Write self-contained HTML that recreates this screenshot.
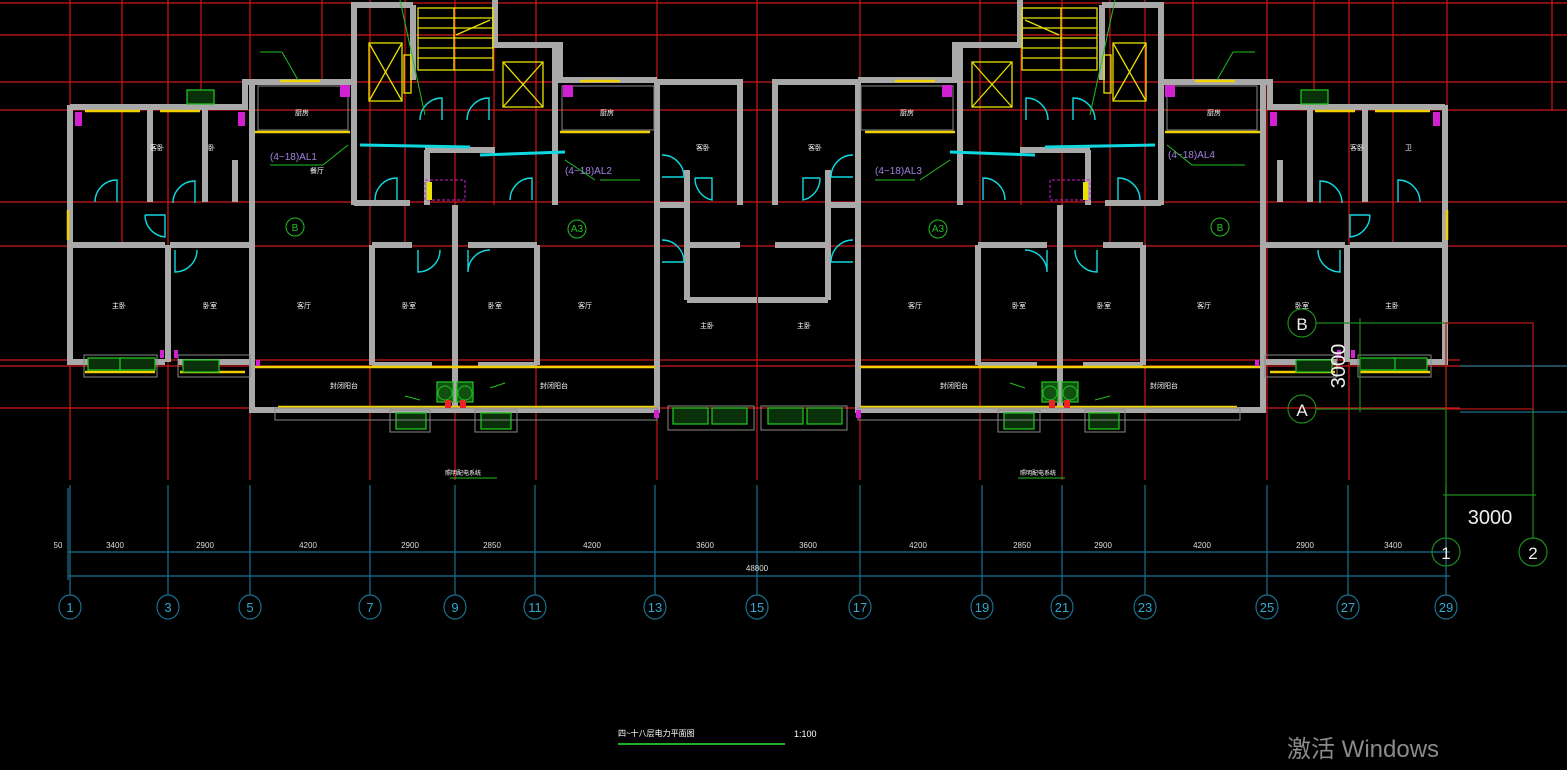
<!DOCTYPE html>
<html><head><meta charset="utf-8"><style>
html,body{margin:0;padding:0;background:#000;overflow:hidden}
svg{display:block}
text{font-family:"Liberation Sans","Noto Sans CJK SC",sans-serif}
</style></head><body>
<svg width="1567" height="770" viewBox="0 0 1567 770" xmlns="http://www.w3.org/2000/svg">
<rect width="1567" height="770" fill="#000"/>
<g stroke="#d01818" stroke-width="1.2" fill="none">
<line x1="0" y1="3" x2="1567" y2="3"/>
<line x1="0" y1="35" x2="1567" y2="35"/>
<line x1="0" y1="82" x2="1567" y2="82"/>
<line x1="0" y1="110" x2="1567" y2="110"/>
<line x1="0" y1="202" x2="1567" y2="202"/>
<line x1="0" y1="246" x2="1567" y2="246"/>
<line x1="0" y1="360" x2="1460" y2="360"/>
<line x1="0" y1="366" x2="1567" y2="366"/>
<line x1="0" y1="408" x2="1460" y2="408"/>
<line x1="70" y1="0" x2="70" y2="480"/><line x1="122" y1="0" x2="122" y2="245"/>
<line x1="168" y1="0" x2="168" y2="480"/><line x1="201" y1="0" x2="201" y2="110"/>
<line x1="250" y1="0" x2="250" y2="480"/><line x1="322" y1="0" x2="322" y2="80"/>
<line x1="370" y1="0" x2="370" y2="480"/><line x1="405" y1="0" x2="405" y2="245"/>
<line x1="455" y1="0" x2="455" y2="480"/><line x1="494" y1="0" x2="494" y2="205"/>
<line x1="536" y1="0" x2="536" y2="480"/><line x1="657" y1="0" x2="657" y2="480"/>
<line x1="757" y1="0" x2="757" y2="480"/><line x1="860" y1="0" x2="860" y2="480"/>
<line x1="980" y1="0" x2="980" y2="480"/><line x1="1021" y1="0" x2="1021" y2="205"/>
<line x1="1062" y1="0" x2="1062" y2="480"/><line x1="1110" y1="0" x2="1110" y2="245"/>
<line x1="1145" y1="0" x2="1145" y2="480"/><line x1="1193" y1="0" x2="1193" y2="80"/>
<line x1="1267" y1="0" x2="1267" y2="480"/><line x1="1314" y1="0" x2="1314" y2="110"/>
<line x1="1349" y1="0" x2="1349" y2="480"/><line x1="1393" y1="0" x2="1393" y2="245"/>
<line x1="1447" y1="0" x2="1447" y2="366"/><line x1="1552" y1="0" x2="1552" y2="110"/>
</g>
<defs>
<g id="half">
<g stroke="#a9a9a9" stroke-width="6" fill="none">
<polyline points="70,105 70,362 165,362"/>
<polyline points="70,107 245,107 245,82 352,82"/>
<line x1="150" y1="107" x2="150" y2="202"/>
<line x1="205" y1="107" x2="205" y2="202"/>
<line x1="235" y1="160" x2="235" y2="202"/>
<line x1="70" y1="245" x2="165" y2="245"/>
<line x1="170" y1="245" x2="250" y2="245"/>
<line x1="168" y1="245" x2="168" y2="362"/>
<line x1="178" y1="362" x2="252" y2="362"/>
<polyline points="252,82 252,410 657,410 657,82 740,82 740,205"/>
<polyline points="354,205 354,5 413,5"/>
<line x1="413" y1="5" x2="413" y2="80"/>
<polyline points="495,0 495,45 560,45 560,80 657,80"/>
<line x1="555" y1="45" x2="555" y2="205"/>
<line x1="354" y1="203" x2="410" y2="203"/>
<line x1="425" y1="150" x2="495" y2="150"/>
<line x1="427" y1="150" x2="427" y2="205"/>
<line x1="372" y1="245" x2="372" y2="365"/>
<line x1="372" y1="245" x2="412" y2="245"/>
<line x1="455" y1="205" x2="455" y2="410"/>
<line x1="468" y1="245" x2="537" y2="245"/>
<line x1="537" y1="245" x2="537" y2="365"/>
<line x1="372" y1="365" x2="432" y2="365"/>
<line x1="478" y1="365" x2="537" y2="365"/>
<line x1="687" y1="170" x2="687" y2="300"/>
<line x1="687" y1="300" x2="757" y2="300"/>
<line x1="687" y1="245" x2="740" y2="245"/>
<line x1="660" y1="205" x2="687" y2="205"/>
</g>
<g stroke="#e8e000" stroke-width="1.3" fill="none">
<rect x="418" y="8" width="75" height="62"/>
<line x1="418" y1="18" x2="493" y2="18"/><line x1="418" y1="28" x2="493" y2="28"/>
<line x1="418" y1="38" x2="493" y2="38"/><line x1="418" y1="48" x2="493" y2="48"/>
<line x1="418" y1="58" x2="493" y2="58"/>
<line x1="454" y1="8" x2="454" y2="70"/><line x1="456" y1="35" x2="490" y2="20"/>
<rect x="369" y="43" width="33" height="58"/><line x1="369" y1="43" x2="402" y2="101"/><line x1="402" y1="43" x2="369" y2="101"/>
<rect x="503" y="62" width="40" height="45"/><line x1="503" y1="62" x2="543" y2="107"/><line x1="543" y1="62" x2="503" y2="107"/>
<rect x="404" y="55" width="7" height="38"/>
</g>
<g stroke="#f0d000" stroke-width="2.5">
<line x1="255" y1="367" x2="655" y2="367"/>
<line x1="278" y1="407" x2="655" y2="407"/>
<line x1="85" y1="111" x2="140" y2="111"/><line x1="160" y1="111" x2="200" y2="111"/>
<line x1="280" y1="81" x2="320" y2="81"/><line x1="580" y1="81" x2="620" y2="81"/>
<line x1="255" y1="132" x2="350" y2="132"/><line x1="560" y1="132" x2="650" y2="132"/>
<line x1="85" y1="372" x2="155" y2="372"/><line x1="180" y1="372" x2="245" y2="372"/>
<line x1="68" y1="210" x2="68" y2="240"/>
</g>
<g stroke="#20c020" stroke-width="1.3" fill="#0a300a">
<rect x="88" y="358" width="35" height="12"/><rect x="120" y="358" width="35" height="12"/>
<rect x="183" y="360" width="36" height="12"/>
<rect x="187" y="90" width="27" height="14"/>
<rect x="396" y="413" width="30" height="16"/><rect x="481" y="413" width="30" height="16"/>
<rect x="673" y="408" width="35" height="16"/><rect x="712" y="408" width="35" height="16"/>
<rect x="437" y="382" width="16" height="20" fill="#105010"/><rect x="457" y="382" width="16" height="20" fill="#105010"/>
</g>
<g stroke="#888" stroke-width="1" fill="none">
<rect x="84" y="355" width="73" height="22"/><rect x="178" y="355" width="72" height="22"/>
<rect x="275" y="408" width="382" height="12"/><rect x="390" y="410" width="40" height="22"/><rect x="475" y="410" width="42" height="22"/>
<rect x="668" y="406" width="86" height="24"/>
<rect x="258" y="86" width="90" height="44"/><rect x="562" y="86" width="92" height="44"/>
</g>
<g stroke="#10d8e0" stroke-width="1.4" fill="none">
<path d="M95 202 A22 22 0 0 1 117 180 L117 202"/>
<path d="M173 203 A22 22 0 0 1 195 181 L195 203"/>
<path d="M145 215 L165 215 L165 237 A22 22 0 0 1 145 215"/>
<path d="M175 250 L175 272 A22 22 0 0 0 197 250"/>
<path d="M418 250 L418 272 A22 22 0 0 0 440 250"/>
<path d="M468 250 L468 272 A22 22 0 0 1 490 250"/>
<path d="M420 120 A22 22 0 0 1 442 98 L442 120"/>
<path d="M467 120 A22 22 0 0 1 489 98 L489 120"/>
<path d="M375 200 A22 22 0 0 1 397 178 L397 200"/>
<path d="M510 200 A22 22 0 0 1 532 178 L532 200"/>
<path d="M662 155 A22 22 0 0 1 684 177 L662 177"/>
<path d="M662 240 A22 22 0 0 1 684 262 L662 262"/>
<path d="M695 178 L712 178 L712 200 A22 22 0 0 1 695 178"/>
<line x1="360" y1="145" x2="470" y2="147" stroke-width="3"/>
<line x1="480" y1="155" x2="565" y2="152" stroke-width="3"/>
</g>
<g fill="#d020d0"><rect x="75" y="112" width="7" height="14"/><rect x="238" y="112" width="7" height="14"/><rect x="340" y="85" width="10" height="12"/><rect x="563" y="85" width="10" height="12"/><rect x="654" y="410" width="5" height="8"/><rect x="256" y="360" width="4" height="6"/><rect x="160" y="350" width="4" height="8"/><rect x="174" y="350" width="4" height="8"/></g>
<g fill="#ee2222"><rect x="445" y="400" width="6" height="8"/><rect x="460" y="400" width="6" height="8"/></g>
<rect x="425" y="180" width="40" height="20" fill="none" stroke="#d020d0" stroke-dasharray="3,2"/>
<rect x="427" y="182" width="5" height="18" fill="#e8e000"/>
<g stroke="#20c020" stroke-width="1" fill="none">
<line x1="260" y1="52" x2="282" y2="52"/><line x1="282" y1="52" x2="298" y2="80"/>
<line x1="270" y1="165" x2="323" y2="165"/><line x1="323" y1="165" x2="348" y2="145"/>
<line x1="400" y1="0" x2="425" y2="115"/>
<line x1="600" y1="180" x2="640" y2="180"/><line x1="565" y1="160" x2="595" y2="180"/>
<line x1="405" y1="396" x2="420" y2="400"/><line x1="490" y1="388" x2="505" y2="383"/>
<line x1="450" y1="478" x2="497" y2="478"/>
<circle cx="295" cy="227" r="9"/><circle cx="577" cy="229" r="9"/>
<circle cx="445" cy="393" r="7"/><circle cx="465" cy="393" r="7"/>
</g>
</g>
</defs>
<use href="#half"/>
<use href="#half" transform="matrix(-1,0,0,1,1515,0)"/>
<g fill="#fff" font-size="7">
<text x="208" y="150">卧</text><text x="150" y="150">客卧</text><text x="295" y="115">厨房</text><text x="310" y="173">餐厅</text>
<text x="112" y="308">主卧</text><text x="203" y="308">卧室</text><text x="297" y="308">客厅</text><text x="402" y="308">卧室</text>
<text x="488" y="308">卧室</text><text x="578" y="308">客厅</text><text x="700" y="328">主卧</text><text x="797" y="328">主卧</text>
<text x="908" y="308">客厅</text><text x="1012" y="308">卧室</text><text x="1097" y="308">卧室</text><text x="1197" y="308">客厅</text>
<text x="1295" y="308">卧室</text><text x="1385" y="308">主卧</text><text x="330" y="388">封闭阳台</text><text x="540" y="388">封闭阳台</text>
<text x="940" y="388">封闭阳台</text><text x="1150" y="388">封闭阳台</text><text x="696" y="150">客卧</text><text x="808" y="150">客卧</text>
<text x="600" y="115">厨房</text><text x="1207" y="115">厨房</text><text x="900" y="115">厨房</text>
<text x="1350" y="150">客卧</text><text x="1405" y="150">卫</text>
<text x="618" y="736" font-size="8">四~十八层电力平面图</text><text x="794" y="737" font-size="9">1:100</text>
<text x="445" y="475" font-size="6">照明配电系统</text><text x="1020" y="475" font-size="6">照明配电系统</text>
</g>
<g fill="#a080e0" font-size="10">
<text x="270" y="160">(4~18)AL1</text><text x="565" y="174">(4~18)AL2</text>
<text x="875" y="174">(4~18)AL3</text><text x="1168" y="158">(4~18)AL4</text>
</g>
<g fill="#20c020" font-size="10" text-anchor="middle"><text x="295" y="231">B</text><text x="577" y="232">A3</text><text x="938" y="232">A3</text><text x="1220" y="231">B</text></g>
<rect x="618" y="743" width="167" height="2" fill="#20b020"/>
<g stroke="#1a7090" stroke-width="1.2" fill="none">
<line x1="68" y1="552" x2="1450" y2="552"/><line x1="68" y1="576" x2="1450" y2="576"/>
<line x1="68" y1="488" x2="68" y2="580"/>
<line x1="70" y1="485" x2="70" y2="595"/><line x1="168" y1="485" x2="168" y2="595"/><line x1="250" y1="485" x2="250" y2="595"/>
<line x1="370" y1="485" x2="370" y2="595"/><line x1="455" y1="485" x2="455" y2="595"/><line x1="535" y1="485" x2="535" y2="595"/>
<line x1="655" y1="485" x2="655" y2="595"/><line x1="757" y1="485" x2="757" y2="595"/><line x1="860" y1="485" x2="860" y2="595"/>
<line x1="982" y1="485" x2="982" y2="595"/><line x1="1062" y1="485" x2="1062" y2="595"/><line x1="1145" y1="485" x2="1145" y2="595"/>
<line x1="1267" y1="485" x2="1267" y2="595"/><line x1="1348" y1="485" x2="1348" y2="595"/><line x1="1446" y1="485" x2="1446" y2="595"/>
<line x1="1460" y1="366" x2="1567" y2="366"/><line x1="1460" y1="412" x2="1567" y2="412"/>
</g>
<g stroke="#1a7090" stroke-width="1.2" fill="none">
<ellipse cx="70" cy="607" rx="11" ry="12"/><ellipse cx="168" cy="607" rx="11" ry="12"/><ellipse cx="250" cy="607" rx="11" ry="12"/>
<ellipse cx="370" cy="607" rx="11" ry="12"/><ellipse cx="455" cy="607" rx="11" ry="12"/><ellipse cx="535" cy="607" rx="11" ry="12"/>
<ellipse cx="655" cy="607" rx="11" ry="12"/><ellipse cx="757" cy="607" rx="11" ry="12"/><ellipse cx="860" cy="607" rx="11" ry="12"/>
<ellipse cx="982" cy="607" rx="11" ry="12"/><ellipse cx="1062" cy="607" rx="11" ry="12"/><ellipse cx="1145" cy="607" rx="11" ry="12"/>
<ellipse cx="1267" cy="607" rx="11" ry="12"/><ellipse cx="1348" cy="607" rx="11" ry="12"/><ellipse cx="1446" cy="607" rx="11" ry="12"/>
</g>
<g fill="#30a8d0" font-size="13" text-anchor="middle">
<text x="70" y="612">1</text><text x="168" y="612">3</text><text x="250" y="612">5</text><text x="370" y="612">7</text>
<text x="455" y="612">9</text><text x="535" y="612">11</text><text x="655" y="612">13</text><text x="757" y="612">15</text>
<text x="860" y="612">17</text><text x="982" y="612">19</text><text x="1062" y="612">21</text><text x="1145" y="612">23</text>
<text x="1267" y="612">25</text><text x="1348" y="612">27</text><text x="1446" y="612">29</text>
</g>
<g fill="#ddd" font-size="8" text-anchor="middle">
<text x="58" y="548">50</text><text x="115" y="548">3400</text><text x="205" y="548">2900</text><text x="308" y="548">4200</text>
<text x="410" y="548">2900</text><text x="492" y="548">2850</text><text x="592" y="548">4200</text><text x="705" y="548">3600</text>
<text x="808" y="548">3600</text><text x="918" y="548">4200</text><text x="1022" y="548">2850</text><text x="1103" y="548">2900</text>
<text x="1202" y="548">4200</text><text x="1305" y="548">2900</text><text x="1393" y="548">3400</text><text x="757" y="571">48800</text>
</g>
<g stroke="#1c8a1c" stroke-width="1.2" fill="none">
<line x1="1316" y1="323" x2="1446" y2="323"/><line x1="1316" y1="409" x2="1446" y2="409"/>
<line x1="1360" y1="318" x2="1360" y2="412"/>
<line x1="1446" y1="323" x2="1446" y2="538"/><line x1="1533" y1="409" x2="1533" y2="538"/>
<line x1="1443" y1="495" x2="1536" y2="495"/>
<circle cx="1302" cy="323" r="14"/><circle cx="1302" cy="409" r="14"/>
<circle cx="1446" cy="552" r="14"/><circle cx="1533" cy="552" r="14"/>
</g>
<rect x="1446" y="323" width="87" height="86" fill="none" stroke="#c01818" stroke-width="1.2"/>
<g fill="#eee" font-size="17" text-anchor="middle">
<text x="1302" y="330">B</text><text x="1302" y="416">A</text><text x="1446" y="559">1</text><text x="1533" y="559">2</text>
<text x="1490" y="524" font-size="20">3000</text>
<text transform="translate(1345,366) rotate(-90)" font-size="20">3000</text>
</g>
<text x="1287" y="757" fill="#8a8a8a" font-size="24" font-family="Liberation Sans,Noto Sans CJK SC,sans-serif">激活 Windows</text>
</svg>
</body></html>
